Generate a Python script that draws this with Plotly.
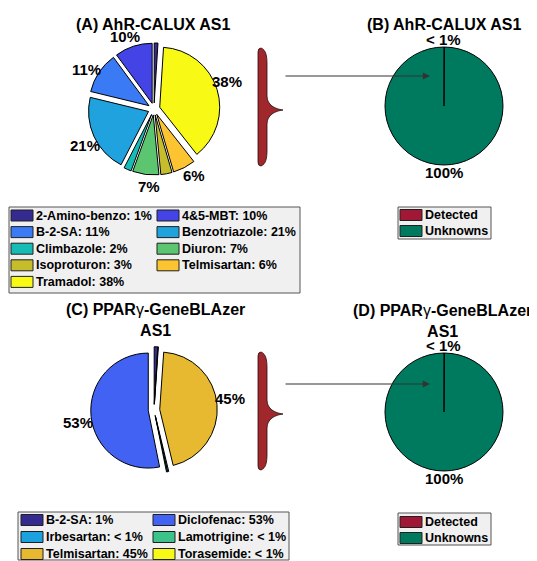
import math
import plotly.graph_objects as go

W, H = 537, 561
OFF = 8  # the page body adds an 8px margin, so positions are shifted back by it
FONT = "Liberation Sans, Arial, sans-serif"

# (A) AhR-CALUX AS1 - identified compounds (share of effect, %)
a_labels = ["2-Amino-benzo", "4&5-MBT", "B-2-SA", "Benzotriazole", "Climbazole",
            "Diuron", "Isoproturon", "Telmisartan", "Tramadol"]
a_values = [1, 10, 11, 21, 2, 7, 3, 6, 38]
a_pct = ["1%", "10%", "11%", "21%", "2%", "7%", "3%", "6%", "38%"]
a_shown = ["", "10%", "11%", "21%", "", "7%", "", "6%", "38%"]
a_colors = ["#352a8f", "#4343e6", "#3a7af4", "#1fa2de", "#15bcb6",
            "#5bc66f", "#c6bd2c", "#fcc430", "#f8f914"]

# (C) PPARγ-GeneBLAzer AS1
c_labels = ["B-2-SA", "Diclofenac", "Irbesartan", "Lamotrigine", "Telmisartan", "Torasemide"]
c_values = [1, 53, 0.3, 0.3, 45, 0.1]
c_pct = ["1%", "53%", "< 1%", "< 1%", "45%", "< 1%"]
c_shown = ["", "53%", "", "", "45%", ""]
c_colors = ["#352a8f", "#4162f2", "#1ba1dd", "#3dc28a", "#e7b931", "#f8f914"]

# (B) / (D) detected vs unknown effect
bd_labels = ["Detected", "Unknowns"]
b_values = [0.1, 99.9]
d_values = [0.1, 99.9]
bd_shown = ["< 1%", "100%"]
bd_colors = ["#a01835", "#007a5e"]


def X(px):
    return (px - OFF) / W


def Y(py):
    return 1 - (py - OFF) / H


def pie_domain(cx, cy, r):
    return dict(x=[X(cx - r), X(cx + r)], y=[Y(cy + r), Y(cy - r)])


def brace_path(xl, xr, top, bot, tip):
    xm = xl + 9
    p = [
        f"M {X(xl)},{Y(bot - 4)}",
        f"L {X(xl)},{Y(top + 4)}",
        f"Q {X(xl)},{Y(top)} {X(xl + 3)},{Y(top)}",
        f"C {X(xm - 1)},{Y(top + 2)} {X(xm)},{Y(top + 8)} {X(xm)},{Y(top + 16)}",
        f"L {X(xm)},{Y(tip - 14)}",
        f"C {X(xm)},{Y(tip - 5)} {X(xr - 8)},{Y(tip - 1)} {X(xr)},{Y(tip)}",
        f"C {X(xr - 8)},{Y(tip + 1)} {X(xm)},{Y(tip + 5)} {X(xm)},{Y(tip + 14)}",
        f"L {X(xm)},{Y(bot - 16)}",
        f"C {X(xm)},{Y(bot - 8)} {X(xm - 1)},{Y(bot - 2)} {X(xl + 3)},{Y(bot)}",
        f"Q {X(xl)},{Y(bot)} {X(xl)},{Y(bot - 4)} Z",
    ]
    return " ".join(p)


fig = go.Figure()

pie_style = dict(sort=False, direction="counterclockwise", rotation=0,
                 textinfo="none", showlegend=False, hoverinfo="label+percent")

# pie centre (px), radius (px), pull, label distance factor
pies = [
    (a_labels, a_values, a_shown, a_colors, 154, 109, 60, 0.1, 1.3),
    (bd_labels, b_values, bd_shown, bd_colors, 444, 106, 59, 0.0, 1.12),
    (c_labels, c_values, c_shown, c_colors, 154, 410, 57.5, 0.1, 1.34),
    (bd_labels, d_values, bd_shown, bd_colors, 444, 412, 59, 0.0, 1.12),
]

annotations = []
shapes = []

for labels, values, shown, colors, cx, cy, r, pull, lab_f in pies:
    fig.add_trace(go.Pie(labels=labels, values=values,
                         marker=dict(colors=colors, line=dict(color="black", width=1)),
                         pull=[pull] * len(values),
                         domain=pie_domain(cx, cy, r * (1 + pull)), **pie_style))
    # percent labels, MATLAB style: centred on each slice's mid angle
    total = sum(values)
    cum = 0
    for v, t in zip(values, shown):
        mid = (cum + v / 2) / total * 2 * math.pi
        cum += v
        if not t:
            continue
        annotations.append(dict(text=t, x=X(cx - lab_f * r * math.sin(mid)),
                                y=Y(cy - lab_f * r * math.cos(mid)),
                                xref="paper", yref="paper", showarrow=False,
                                xanchor="center", yanchor="middle",
                                font=dict(family=FONT, size=15, color="black", weight="bold")))

# panel titles
gamma = "<span style='font-weight:normal'>γ</span>"
titles = [
    ("(A) AhR-CALUX AS1", 153, 24),
    ("(B) AhR-CALUX AS1", 444, 24),
    (f"(C) PPAR{gamma}-GeneBLAzer<br>AS1", 155, 320),
    (f"(D) PPAR{gamma}-GeneBLAzer<br>AS1", 442, 321),
]
for txt, tx, ty in titles:
    annotations.append(dict(text=txt, x=X(tx), y=Y(ty), xref="paper", yref="paper",
                            showarrow=False, xanchor="center", yanchor="middle",
                            font=dict(family=FONT, size=16, color="black", weight="bold")))


def add_legend(names, pcts, colors, box, x0, y0, col_step, row_step, ncol):
    shapes.append(dict(type="rect", xref="paper", yref="paper",
                       x0=X(box[0]), x1=X(box[2]), y0=Y(box[3]), y1=Y(box[1]),
                       fillcolor="#f0f0f0", line=dict(color="#555555", width=1)))
    for i, name in enumerate(names):
        row, col = divmod(i, ncol)
        sx = x0 + col * col_step
        sy = y0 + row * row_step
        shapes.append(dict(type="rect", xref="paper", yref="paper",
                           x0=X(sx), x1=X(sx + 22), y0=Y(sy + 5.5), y1=Y(sy - 5.5),
                           fillcolor=colors[i], line=dict(color="#202020", width=1)))
        label = name if pcts is None else f"{name}: {pcts[i]}"
        annotations.append(dict(text=label, x=X(sx + 23), y=Y(sy), xref="paper", yref="paper",
                                showarrow=False, xanchor="left", yanchor="middle",
                                font=dict(family=FONT, size=12.5, color="black", weight="bold")))


add_legend(a_labels, a_pct, a_colors, (9, 207, 300, 293), 11, 215.5, 146, 16.6, 2)
add_legend(bd_labels, None, bd_colors, (398, 207, 491, 239), 400, 215, 0, 16, 1)
add_legend(c_labels, c_pct, c_colors, (18, 512, 289, 560), 21, 520, 132, 17, 2)
add_legend(bd_labels, None, bd_colors, (398, 513, 491, 545), 400, 522, 0, 16, 1)

# braces and arrows linking the detected slice to the compound breakdown
for top, bot, tip, ay in [(48, 166, 110, 76), (352, 470, 414, 384)]:
    shapes.append(dict(type="path", xref="paper", yref="paper",
                       path=brace_path(258, 283, top, bot, tip),
                       fillcolor="#a0282d", line=dict(color="#2a0a0a", width=0.8)))
    annotations.append(dict(text="", x=X(430), y=Y(ay), xref="paper", yref="paper",
                            ax=-146, ay=0, showarrow=True, arrowhead=2, arrowsize=1.2,
                            arrowwidth=1.2, arrowcolor="#333333"))

fig.update_layout(
    width=W, height=H,
    margin=dict(l=0, r=0, t=0, b=0, autoexpand=False),
    paper_bgcolor="white", plot_bgcolor="white",
    font=dict(family=FONT, color="black"),
    shapes=shapes, annotations=annotations,
)

fig.write_html("out.html")
